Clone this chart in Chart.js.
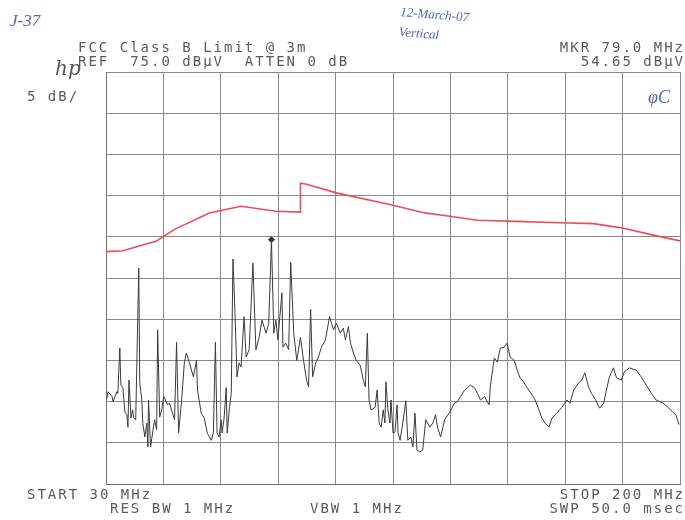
<!DOCTYPE html>
<html>
<head>
<meta charset="utf-8">
<script src="https://cdn.jsdelivr.net/npm/chart.js@4/dist/chart.umd.min.js"></script>
<style>
  body{margin:0;background:#fff;}
  #wrap{width:685px;height:520px;position:relative;}
</style>
</head>
<body>
<div id="wrap"><canvas id="chart" width="685" height="520"></canvas></div>
<script>
// frequency axis (MHz) and level axis (dBuV)
const xTickValues=[30,47,64,81,98,115,132,149,166,183,200]
const yTickValues=[25,30,35,40,45,50,55,60,65,70,75]

// FCC class B limit line as plotted (red)
const limitFreq=[30,35,45,46.8,50.3,60.6,70,80.3,87.6,87.6,89.1,98.5,114.4,124.4,131.8,140,148.8,164.4,174.4,179.1,182.6,192.1,200]
const limitLevel=[53.2,53.3,54.5,55.0,55.9,57.9,58.7,58.1,58.0,61.5,61.4,60.3,58.9,57.9,57.5,57.0,56.9,56.7,56.6,56.3,56.1,55.2,54.5]

// measured sweep
const traceFreq=[30.3,30.6,31.8,32.1,33.2,33.5,34.1,34.4,35.0,35.6,36.2,36.5,36.8,37.4,37.9,38.2,38.8,39.7,40.0,40.6,
  40.9,41.5,42.1,42.4,42.6,43.2,43.8,44.4,45.0,45.3,45.9,46.5,47.1,47.6,48.2,48.8,49.4,50.3,50.9,51.5,
  52.4,53.2,53.8,54.7,55.9,56.8,57.1,58.2,59.1,60.0,61.2,61.8,62.4,62.9,63.5,64.1,64.4,65.0,65.6,65.9,
  66.5,67.1,67.6,68.2,68.8,69.4,70.0,70.9,71.5,72.4,73.5,74.4,75.3,76.2,77.4,78.2,79.0,79.7,80.3,80.9,
  82.1,82.4,83.2,84.1,84.7,85.6,86.5,87.6,88.5,89.4,90.0,90.6,91.2,92.1,92.9,93.8,95.0,96.2,96.8,97.4,
  98.2,99.4,100.3,100.9,101.8,102.4,103.2,104.1,105.3,106.2,106.8,107.4,107.9,108.5,109.7,110.3,110.9,111.5,112.1,112.6,
  112.9,113.5,114.1,114.4,115.0,115.6,116.2,116.5,117.1,117.9,118.8,119.4,120.3,120.9,121.5,122.1,122.9,123.8,124.7,125.9,
  126.8,127.6,128.2,129.1,130.3,131.8,133.2,134.1,135.0,136.2,137.1,137.9,139.1,140.0,140.9,142.1,143.5,143.8,145.0,145.9,
  146.8,147.9,148.8,149.7,150.9,151.8,152.6,153.8,154.7,156.2,157.1,158.2,159.1,160.0,161.2,162.1,163.5,165.0,166.5,167.4,
  168.5,170.0,170.9,171.8,172.9,173.8,175.0,176.2,177.4,178.2,179.1,180.3,181.2,182.6,183.5,185.0,187.1,188.5,190.0,191.5,
  192.9,195.0,196.5,197.9,198.8,199.7]
const traceLevel=[35.4,36.2,35.6,35.0,36.2,36.0,41.5,37.0,36.7,33.7,33.4,31.9,37.6,33.0,34.0,33.0,32.8,51.2,37.3,35.2,
  32.4,30.7,32.4,29.5,35.2,29.5,31.2,32.8,31.6,43.7,33.1,34.0,35.6,35.2,34.6,34.8,34.0,32.8,42.2,31.2,
  35.2,39.7,40.9,39.7,38.0,40.0,36.4,33.6,33.0,31.2,30.3,31.2,42.2,31.2,30.7,32.8,31.2,33.1,36.7,31.2,
  34.0,36.0,52.3,45.8,38.0,39.7,39.2,45.3,40.4,41.3,51.8,41.3,42.7,44.9,43.3,44.5,54.65,43.3,44.9,42.5,
  48.2,41.6,42.1,41.3,51.9,43.3,40.0,42.8,40.0,37.6,36.8,46.2,38.0,39.7,40.4,41.6,42.5,45.3,44.5,43.7,
  44.5,43.3,43.9,42.5,44.1,42.1,41.0,40.0,39.4,37.6,36.8,43.3,35.2,34.0,34.3,36.4,32.4,31.9,34.0,32.4,
  37.4,34.0,32.4,35.2,31.2,31.3,34.6,31.2,30.3,32.4,35.1,30.3,30.7,29.5,33.6,29.1,28.9,29.1,32.8,31.9,
  32.4,33.4,31.9,30.7,32.8,33.7,34.8,35.0,35.6,36.4,36.7,37.0,36.7,36.0,35.2,35.6,34.6,36.8,40.3,39.8,
  41.5,41.6,42.1,40.4,40.0,38.8,37.9,37.3,36.7,35.8,35.2,34.0,33.0,32.4,31.9,33.0,33.6,34.3,35.2,34.8,
  36.4,37.3,37.6,38.5,36.8,36.0,35.2,34.2,34.8,36.4,38.0,39.1,37.9,37.6,38.6,39.1,38.8,38.0,37.0,36.0,
  35.2,34.8,34.3,33.7,33.4,32.2]

// marker reading
const markerFreq=[79.0]
const markerLevel=[54.65]

const pts=(xs,ys)=>xs.map((x,i)=>({x:x,y:ys[i]}))

const labelPlugin={
  id:"labels",
  afterDraw(chart){
    const ctx=chart.ctx
    ctx.save()
    ctx.fillStyle="#5a5a5a"
    ctx.font="14px 'DejaVu Sans Mono'"
    ctx.letterSpacing="2px"
    ctx.textBaseline="alphabetic"
    ctx.textAlign="left"
    ctx.fillText("FCC Class B Limit @ 3m",78,52)
    ctx.fillText("REF  75.0 dBμV  ATTEN 0 dB",78,66)
    ctx.fillText("5 dB/",27,101)
    ctx.fillText("START 30 MHz",27,499)
    ctx.fillText("RES BW 1 MHz",110,513)
    ctx.fillText("VBW 1 MHz",310,513)
    ctx.textAlign="right"
    ctx.fillText("MKR 79.0 MHz",685,52)
    ctx.fillText("54.65 dBμV",685,66)
    ctx.fillText("STOP 200 MHz",685,499)
    ctx.fillText("SWP 50.0 msec",685,513)

    // handwriting and logo
    ctx.letterSpacing="0px"
    ctx.textAlign="left"
    ctx.fillStyle="#555"
    ctx.font="italic 20px 'DejaVu Serif'"
    ctx.fillText("hp",55,75)
    ctx.fillStyle="#5565b5"
    ctx.font="italic 17px 'Liberation Serif'"
    ctx.fillText("J-37",10,26)
    ctx.font="italic 18px 'Liberation Serif'"
    ctx.fillText("φC",648,103)
    ctx.save()
    ctx.translate(400,16)
    ctx.rotate(0.08)
    ctx.font="italic 13px 'Liberation Serif'"
    ctx.fillText("12-March-07",0,0)
    ctx.fillText("Vertical",0,20)
    ctx.restore()
    ctx.restore()
  }
}

new Chart(document.getElementById("chart"),{
  type:"line",
  data:{
    datasets:[
      {
        label:"Limit",
        data:pts(limitFreq,limitLevel),
        borderColor:"rgb(232,78,88)",
        borderWidth:1.6,
        pointRadius:0,
        tension:0
      },
      {
        label:"Trace",
        data:pts(traceFreq,traceLevel),
        borderColor:"#3a3a3a",
        borderWidth:1,
        pointRadius:0,
        tension:0
      },
      {
        label:"Marker",
        data:pts(markerFreq,markerLevel),
        showLine:false,
        pointStyle:"rectRot",
        pointRadius:3,
        backgroundColor:"#333",
        borderColor:"#333"
      }
    ]
  },
  options:{
    responsive:false,
    animation:false,
    layout:{padding:{left:106,top:72,right:1,bottom:36}},
    plugins:{legend:{display:false},tooltip:{enabled:false}},
    scales:{
      x:{
        type:"linear",
        min:30,max:200,
        afterBuildTicks:s=>{s.ticks=xTickValues.map(v=>({value:v}))},
        ticks:{display:false},
        grid:{color:"#8a8a8a",lineWidth:1,drawTicks:false},
        border:{display:true,color:"#707070"}
      },
      y:{
        type:"linear",
        min:25,max:75,
        afterBuildTicks:s=>{s.ticks=yTickValues.map(v=>({value:v}))},
        ticks:{display:false},
        grid:{color:"#8a8a8a",lineWidth:1,drawTicks:false},
        border:{display:true,color:"#707070"}
      }
    }
  },
  plugins:[labelPlugin]
})
</script>
</body>
</html>
